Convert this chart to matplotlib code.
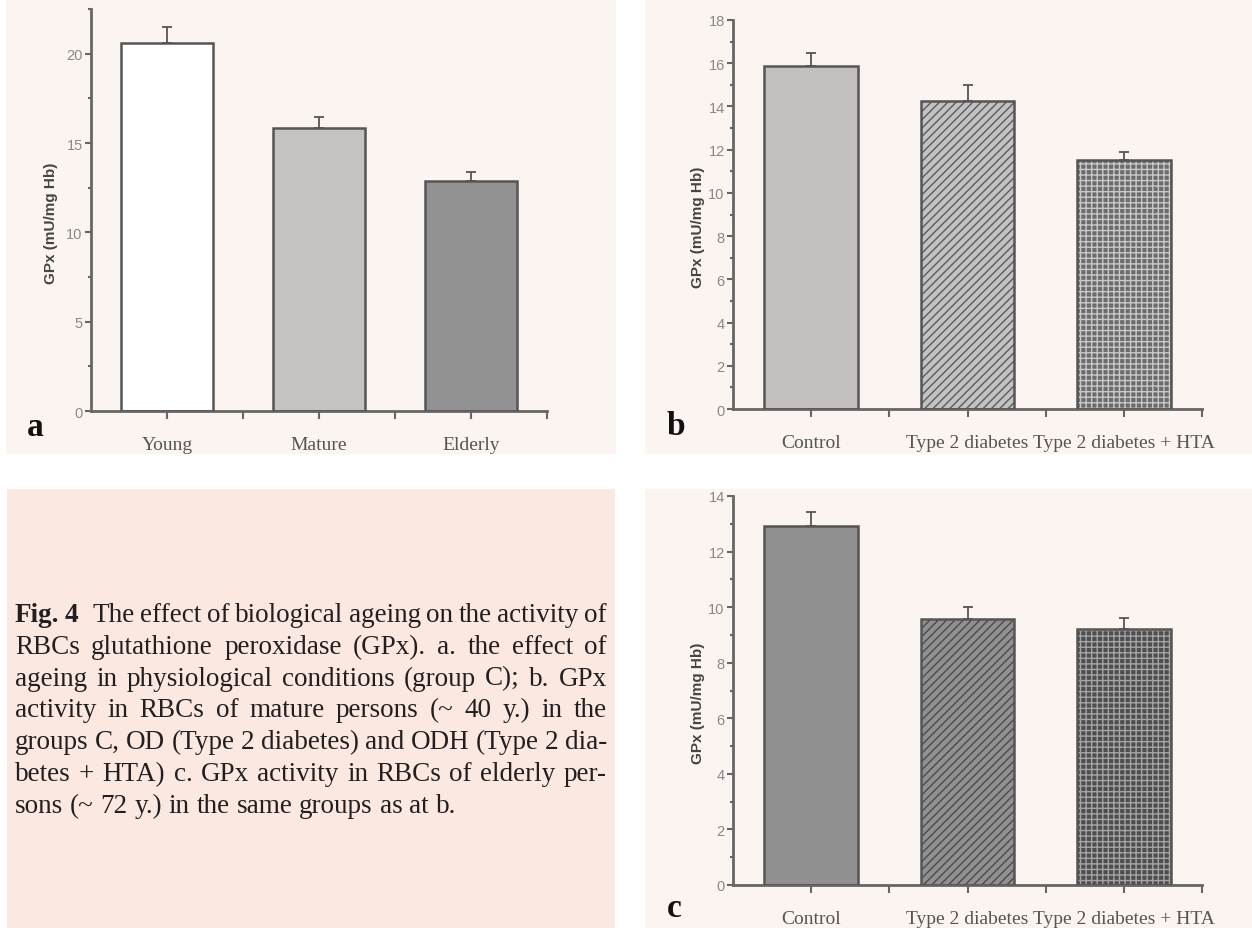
import matplotlib
matplotlib.use('Agg')
import matplotlib.pyplot as plt
from matplotlib.patches import Rectangle
from matplotlib.ticker import MultipleLocator, FixedLocator

# a. ageing in physiological conditions (group C)
age_groups = ['Young', 'Mature', 'Elderly']
gpx_age = [20.6, 15.85, 12.87]
gpx_age_err = [0.9, 0.6, 0.53]

# b. / c. groups C, OD and ODH
disease_groups = ['Control', 'Type 2 diabetes', 'Type 2 diabetes + HTA']
gpx_mature = [15.87, 14.25, 11.53]
gpx_mature_err = [0.58, 0.72, 0.37]
gpx_elderly = [12.91, 9.57, 9.2]
gpx_elderly_err = [0.52, 0.45, 0.4]

caption_lines = [
    'Fig. 4 The effect of biological ageing on the activity of',
    'RBCs glutathione peroxidase (GPx). a. the effect of',
    'ageing in physiological conditions (group C); b. GPx',
    'activity in RBCs of mature persons (~ 40 y.) in the',
    'groups C, OD (Type 2 diabetes) and ODH (Type 2 dia-',
    'betes + HTA) c. GPx activity in RBCs of elderly per-',
    'sons (~ 72 y.) in the same groups as at b.',
]

W, H = 1252, 929
PANEL_BG = '#fcf4f0'
CAPTION_BG = '#fbe9e1'
AXIS_COL = '#666666'


def fx(px):
    return px / W


def fy(py):
    return 1 - py / H


def add_bg(fig, x0, y0, x1, y1, color):
    fig.add_artist(Rectangle((fx(x0), fy(y1)), fx(x1) - fx(x0), fy(y0) - fy(y1),
                             transform=fig.transFigure, facecolor=color,
                             edgecolor='none', zorder=-5))


def draw_panel(ax, cats, vals, errs, faces, hatches, hatch_cols, ymax, major, minor, label_x):
    x = list(range(len(cats)))
    for i in x:
        ax.bar(i, vals[i], width=0.6, color=faces[i], edgecolor=hatch_cols[i],
               hatch=hatches[i], linewidth=0, zorder=2)
        ax.bar(i, vals[i], width=0.6, fill=False, edgecolor='#555555',
               linewidth=1.8, zorder=3)
    ax.errorbar(x, vals, yerr=[[0] * len(vals), errs], fmt='none',
                ecolor='#555555', elinewidth=1.3, capsize=3.3, capthick=1.3, zorder=4)

    ax.set_xlim(-0.5, 2.5)
    ax.set_ylim(0, ymax)
    ax.set_facecolor('none')
    for s in ['top', 'right']:
        ax.spines[s].set_visible(False)
    for s in ['left', 'bottom']:
        ax.spines[s].set_color(AXIS_COL)
        ax.spines[s].set_linewidth(2)

    ax.set_xticks(x)
    ax.set_xticklabels(cats, family='Liberation Serif', fontsize=14, color='#555555')
    ax.xaxis.set_minor_locator(FixedLocator([0.5, 1.5, 2.5]))
    ax.tick_params(axis='x', which='both', direction='out', length=6, width=1.5,
                   color=AXIS_COL, pad=12)

    ax.yaxis.set_major_locator(MultipleLocator(major))
    ax.yaxis.set_minor_locator(MultipleLocator(minor))
    ax.tick_params(axis='y', which='major', direction='out', length=4, width=1.5,
                   color=AXIS_COL, labelsize=10.5, labelcolor='#888888', pad=2)
    ax.tick_params(axis='y', which='minor', direction='out', length=2.5, width=1.5,
                   color=AXIS_COL)
    for lab in ax.get_yticklabels():
        lab.set_family('Liberation Sans')

    ax.set_ylabel('GPx (mU/mg Hb)', family='Liberation Sans', fontweight='bold',
                  fontsize=11, color='#444444')
    ax.yaxis.set_label_coords(label_x, 0.47)


fig = plt.figure(figsize=(W / 100, H / 100), dpi=100)
fig.patch.set_facecolor('white')

add_bg(fig, 6, 0, 616, 455, PANEL_BG)
add_bg(fig, 645, 0, W, 455, PANEL_BG)
add_bg(fig, 645, 490, W, H, PANEL_BG)
add_bg(fig, 7, 490, 615, H, CAPTION_BG)

ax_a = fig.add_axes([fx(91), fy(412), fx(547) - fx(91), fy(10) - fy(412)])
draw_panel(ax_a, age_groups, gpx_age, gpx_age_err,
           ['#ffffff', '#c6c2c1', '#929292'], [None, None, None],
           ['#555555'] * 3, 22.5, 5, 2.5, -0.072)

ax_b = fig.add_axes([fx(733), fy(410), fx(1202) - fx(733), fy(21) - fy(410)])
draw_panel(ax_b, disease_groups, gpx_mature, gpx_mature_err,
           ['#c4c0c0', '#c2c2c2', '#6c6c6c'], [None, '////', '+++'],
           ['#555555', '#5a5a5a', '#c8c8c8'], 18, 2, 1, -0.06)

ax_c = fig.add_axes([fx(733), fy(886), fx(1202) - fx(733), fy(497) - fy(886)])
draw_panel(ax_c, disease_groups, gpx_elderly, gpx_elderly_err,
           ['#909090', '#909090', '#4e4e4e'], [None, '////', '+++'],
           ['#555555', '#4a4a4a', '#a4a4a4'], 14, 2, 1, -0.06)

for lab, px, py in [('a', 27, 436), ('b', 667, 435), ('c', 667, 917)]:
    fig.text(fx(px), fy(py), lab, family='Liberation Serif', fontweight='bold',
             fontsize=24, color='#111111', va='baseline', ha='left')

# caption, justified word by word
renderer = fig.canvas.get_renderer()
left, right = 15, 607
extra = 8  # wider space after "Fig. 4"
for i, line in enumerate(caption_lines):
    y = fy(622 + i * 31.8)
    words = line.split()
    texts = []
    for j, w in enumerate(words):
        bold = (i == 0 and j < 2)
        texts.append(fig.text(0, y, w, family='Liberation Serif', fontsize=19.5,
                              fontweight='bold' if bold else 'normal',
                              color='#231f20', va='baseline', ha='left'))
    widths = [t.get_window_extent(renderer).width for t in texts]
    if i == len(caption_lines) - 1:
        gap = 6.8
    else:
        used = sum(widths) + (extra if i == 0 else 0)
        gap = (right - left - used) / (len(words) - 1)
    x = left
    for j, (t, w) in enumerate(zip(texts, widths)):
        t.set_x(fx(x))
        x += w + gap
        if i == 0 and j == 1:
            x += extra

fig.savefig('out.png', dpi=100)
